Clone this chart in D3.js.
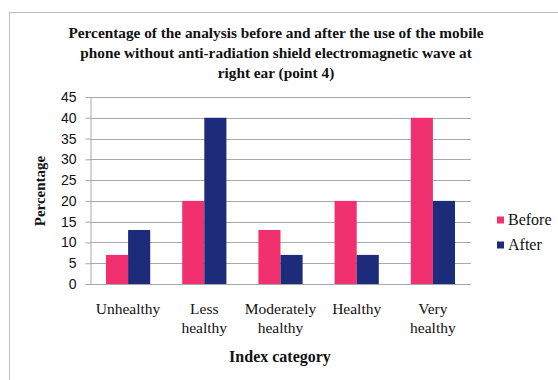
<!DOCTYPE html>
<html>
<head>
<meta charset="utf-8">
<script src="https://cdn.jsdelivr.net/npm/d3@7/dist/d3.min.js"></script>
<style>
html,body{margin:0;padding:0;background:#fff;}
svg{display:block;}
text{font-family:"Liberation Serif","Times New Roman",serif;fill:#111;}
</style>
</head>
<body>
<svg id="chart" width="558" height="380"></svg>
<script>
const categories = [["Unhealthy"], ["Less", "healthy"], ["Moderately", "healthy"], ["Healthy"], ["Very", "healthy"]];
const seriesNames = ["Before", "After"];
const before = [7, 20, 13, 20, 40];
const after = [13, 40, 7, 7, 20];
const yTicks = [0, 5, 10, 15, 20, 25, 30, 35, 40, 45];
const titleLines = [
  "Percentage of the analysis before and after the use of the mobile",
  "phone without  anti-radiation shield electromagnetic wave at",
  "right ear (point  4)"
];
const colors = ["#f0306f", "#1c2b7a"];

const svg = d3.select("#chart");
const W = 558, H = 380;
const m = {left: 90, right: 87, top: 97, bottom: 96};

// outer frame (left/top visible)
svg.append("rect").attr("x", 9.5).attr("y", 12.5).attr("width", 560).attr("height", 380)
  .attr("fill", "none").attr("stroke", "#bdbdbd").attr("stroke-width", 1);

const x = d3.scaleBand().domain(d3.range(categories.length)).range([m.left, W - m.right]).paddingInner(0.42).paddingOuter(0.21);
const xs = d3.scaleBand().domain(seriesNames).range([0, x.bandwidth()]);
const y = d3.scaleLinear().domain([0, 45]).range([H - m.bottom, m.top]);

// gridlines
svg.append("g").selectAll("line").data(yTicks.filter(d => d > 0)).join("line")
  .attr("x1", m.left).attr("x2", W - m.right)
  .attr("y1", d => Math.round(y(d)) + 0.5).attr("y2", d => Math.round(y(d)) + 0.5)
  .attr("stroke", "#a8a8a8").attr("stroke-width", 1);

// bars
const data = categories.map((c, i) => ({i, vals: [before[i], after[i]]}));
const g = svg.append("g").selectAll("g").data(data).join("g")
  .attr("transform", d => `translate(${x(d.i)},0)`);
g.selectAll("rect").data(d => d.vals.map((v, k) => ({v, k}))).join("rect")
  .attr("x", d => xs(seriesNames[d.k]))
  .attr("width", xs.bandwidth())
  .attr("y", d => y(d.v))
  .attr("height", d => y(0) - y(d.v))
  .attr("fill", d => colors[d.k]);

// y axis
const yAxis = d3.axisLeft(y).tickValues(yTicks).tickSize(5).tickPadding(9);
const ya = svg.append("g").attr("transform", `translate(${m.left + 0.5},0)`).call(yAxis);
ya.select(".domain").attr("stroke", "#a8a8a8");
ya.selectAll(".tick line").attr("stroke", "#a8a8a8");
ya.selectAll(".tick text").style("font-family", "Liberation Sans, Arial, sans-serif").style("font-size", "14px").attr("fill", "#222");

// x axis baseline
svg.append("line").attr("x1", m.left).attr("x2", W - m.right)
  .attr("y1", Math.round(y(0)) + 0.5).attr("y2", Math.round(y(0)) + 0.5)
  .attr("stroke", "#a8a8a8");

// x labels
const xl = svg.append("g").selectAll("text").data(categories).join("text")
  .attr("x", (d, i) => x(i) + x.bandwidth() / 2)
  .attr("y", 314)
  .attr("text-anchor", "middle")
  .style("font-size", "15.5px");
xl.selectAll("tspan").data(d => d).join("tspan")
  .attr("x", function() { return this.parentNode.getAttribute("x"); })
  .attr("dy", (d, k) => k === 0 ? 0 : 19)
  .text(d => d);

// axis titles
svg.append("text").attr("x", 280).attr("y", 362).attr("text-anchor", "middle")
  .style("font-size", "16px").style("font-weight", "bold").text("Index category");
svg.append("text").attr("transform", "translate(45,191) rotate(-90)").attr("text-anchor", "middle")
  .style("font-size", "15px").style("font-weight", "bold").text("Percentage");

// title
svg.append("g").selectAll("text").data(titleLines).join("text")
  .attr("x", 276).attr("y", (d, i) => 38 + i * 20)
  .attr("text-anchor", "middle")
  .style("font-size", "15.3px").style("font-weight", "bold")
  .text(d => d);

// legend
const lg = svg.append("g").selectAll("g").data(seriesNames).join("g")
  .attr("transform", (d, i) => `translate(497,${220 + i * 25})`);
lg.append("rect").attr("x", 0).attr("y", -3.5).attr("width", 7).attr("height", 7).attr("fill", (d, i) => colors[i]);
lg.append("text").attr("x", 11).attr("y", 5).style("font-size", "16px").text(d => d);
</script>
</body>
</html>
